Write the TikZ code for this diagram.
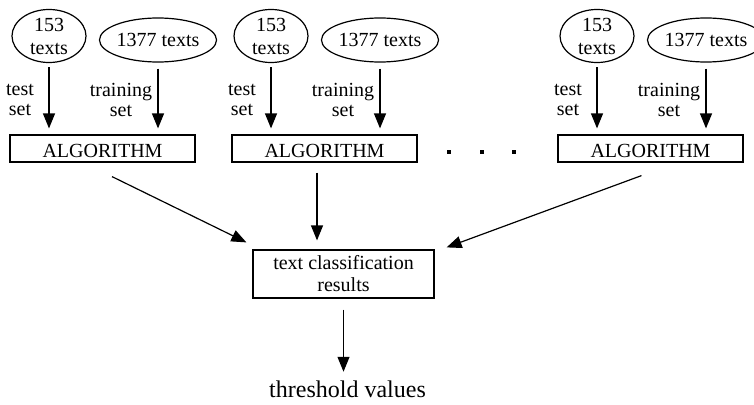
\documentclass[tikz,border=0pt]{standalone}
\usepackage{fontspec}
\setmainfont{Liberation Serif}
\usetikzlibrary{arrows.meta,shapes.geometric}

\begin{document}
\begin{tikzpicture}[x=1pt,y=-1pt,line width=1.2pt,
  set/.style={ellipse,draw,inner sep=0pt,align=center,font=\fontsize{20pt}{23pt}\selectfont},
  algbox/.style={rectangle,draw,minimum width=185pt,minimum height=27pt,inner sep=0pt,
    text height=18pt,text depth=0pt,font=\fontsize{20pt}{23pt}\selectfont},
  resbox/.style={rectangle,draw,minimum width=181pt,minimum height=48pt,inner sep=0pt,
    align=center,font=\fontsize{20pt}{22pt}\selectfont},
  lbl/.style={align=center,inner sep=0pt,font=\fontsize{20pt}{20pt}\selectfont},
  arr/.style={-{Triangle[length=15pt,width=12pt]}}]
\useasboundingbox (0,0) rectangle (754,404);

% One block per run: test set, training set, algorithm
\foreach \i/\dx in {1/0,2/222,3/548} {
  \node[set,minimum width=74pt,minimum height=53pt] (small\i) at (49+\dx,36) {153\\texts};
  \node[set,minimum width=116pt,minimum height=44pt] (big\i) at (158+\dx,40) {1377 texts};
  \node[algbox] (alg\i) at (102.5+\dx,148.5) {ALGORITHM};
  \node[lbl] (test\i) at (20+\dx,100) {test\\set};
  \node[lbl] (train\i) at (121+\dx,100) {training\\set};
  \draw[arr,shorten <=4pt,shorten >=6pt] (small\i.south) -- (small\i.south |- alg\i.north);
  \draw[arr,shorten <=6pt,shorten >=6pt] (big\i.south) -- (big\i.south |- alg\i.north);
}

% Dots between the blocks
\foreach \x in {449,482,514} {
  \fill (\x-1.75,150.25) rectangle ++(3.5,3.5);
}

% Results
\node[resbox] (res) at (343.5,274) {text classification\\results};
\node[font=\fontsize{24pt}{28pt}\selectfont,inner sep=0pt,anchor=base] (thr) at (347.5,397) {threshold values};

\coordinate (m2) at ([xshift=-7.5pt,yshift=-10pt]alg2.south);
\draw[arr] ([xshift=9.5pt,yshift=-14pt]alg1.south) -- ([xshift=-6pt,yshift=7pt]res.north west);
\draw[arr,shorten >=9pt] (m2) -- (m2 |- res.north);
\draw[arr] ([xshift=-9pt,yshift=-13pt]alg3.south) -- ([xshift=12pt,yshift=2pt]res.north east);
\draw[arr,shorten <=11pt,shorten >=8pt] (res.south) -- (res.south |- thr.north);
\end{tikzpicture}
\end{document}
